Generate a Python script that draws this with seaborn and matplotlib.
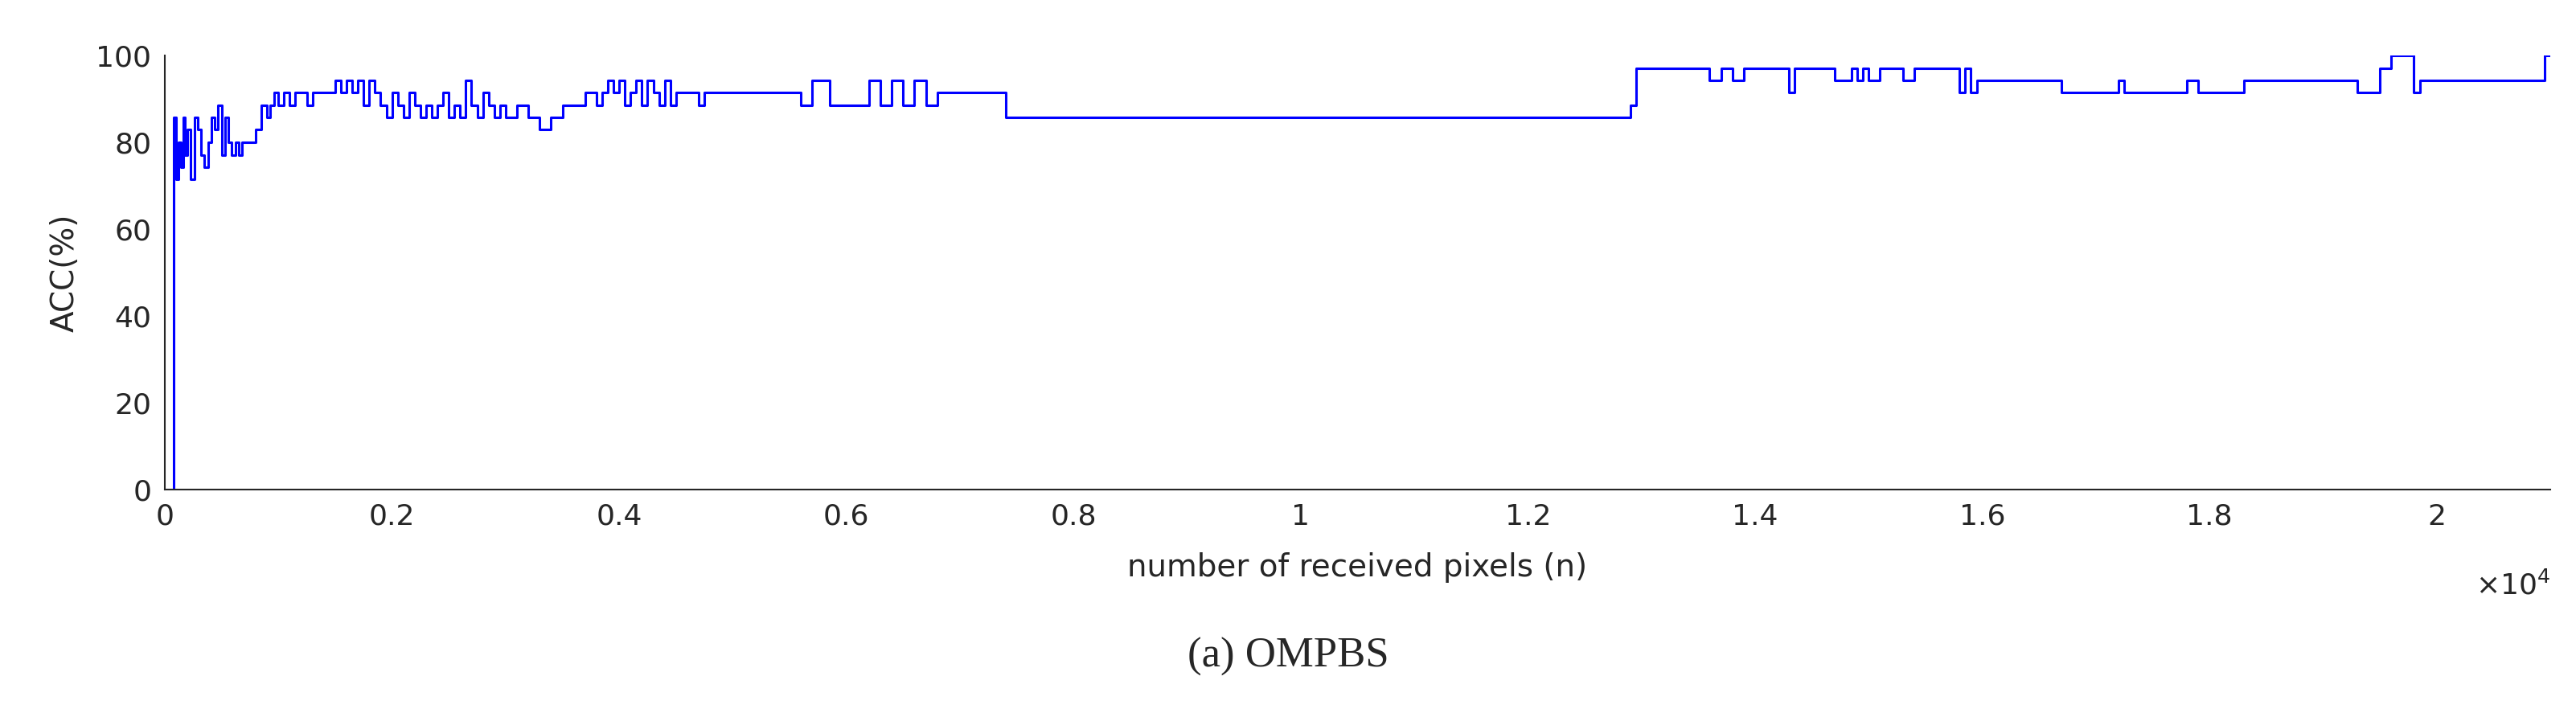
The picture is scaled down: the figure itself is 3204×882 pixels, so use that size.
import matplotlib
matplotlib.use("Agg")
import matplotlib.pyplot as plt
import seaborn as sns
import pandas as pd

sns.set_style("white")
plt.rcParams['font.family'] = ['DejaVu Sans']

# step breakpoints as (n, ACC%) pairs
steps = [
    (0, 0), (80, 85.7), (100, 71.4), (120, 80), (140, 74.3), (160, 85.7), (180, 77.1),
    (200, 82.9), (230, 71.4), (260, 85.7), (290, 82.9), (320, 77.1), (350, 74.3), (380, 80),
    (410, 85.7), (440, 82.9), (470, 88.6), (500, 77.1), (530, 85.7), (560, 80), (590, 77.1),
    (620, 80), (650, 77.1), (680, 80), (800, 82.9), (850, 88.6), (900, 85.7), (930, 88.6),
    (960, 91.4), (1000, 88.6), (1050, 91.4), (1100, 88.6), (1150, 91.4), (1250, 88.6),
    (1300, 91.4), (1500, 94.3), (1550, 91.4), (1600, 94.3), (1650, 91.4), (1700, 94.3),
    (1750, 88.6), (1800, 94.3), (1850, 91.4), (1900, 88.6), (1950, 85.7), (2000, 91.4),
    (2050, 88.6), (2100, 85.7), (2150, 91.4), (2200, 88.6), (2250, 85.7), (2300, 88.6),
    (2350, 85.7), (2400, 88.6), (2450, 91.4), (2500, 85.7), (2550, 88.6), (2600, 85.7),
    (2650, 94.3), (2700, 88.6), (2750, 85.7), (2800, 91.4), (2850, 88.6), (2900, 85.7),
    (2950, 88.6), (3000, 85.7), (3100, 88.6), (3200, 85.7), (3300, 82.9), (3400, 85.7),
    (3500, 88.6), (3700, 91.4), (3800, 88.6), (3850, 91.4), (3900, 94.3), (3950, 91.4),
    (4000, 94.3), (4050, 88.6), (4100, 91.4), (4150, 94.3), (4200, 88.6), (4250, 94.3),
    (4300, 91.4), (4350, 88.6), (4400, 94.3), (4450, 88.6), (4500, 91.4), (4700, 88.6),
    (4750, 91.4), (5600, 88.6), (5700, 94.3), (5850, 88.6), (6200, 94.3), (6300, 88.6),
    (6400, 94.3), (6500, 88.6), (6600, 94.3), (6700, 88.6), (6800, 91.4), (7400, 85.7),
    (12900, 88.6), (12950, 97.1), (13600, 94.3), (13700, 97.1), (13800, 94.3), (13900, 97.1),
    (14300, 91.4), (14350, 97.1), (14700, 94.3), (14850, 97.1), (14900, 94.3), (14950, 97.1),
    (15000, 94.3), (15100, 97.1), (15300, 94.3), (15400, 97.1), (15800, 91.4), (15850, 97.1),
    (15900, 91.4), (15950, 94.3), (16700, 91.4), (17200, 94.3), (17250, 91.4), (17800, 94.3),
    (17900, 91.4), (18300, 94.3), (19300, 91.4), (19500, 97.1), (19600, 100), (19800, 91.4),
    (19850, 94.3), (20950, 100), (21000, 100),
]
n_vals = [p[0] for p in steps]
acc_vals = [p[1] for p in steps]

df = pd.DataFrame({"n": n_vals, "acc": acc_vals})

fig = plt.figure(figsize=(32.04, 8.82), dpi=100)
ax = fig.add_axes([205/3204, 1-609/882, (3172-205)/3204, (609-69)/882])
sns.lineplot(data=df, x="n", y="acc", ax=ax, color="#0000ff", lw=2.2, drawstyle="steps-post")
ax.set_xlim(0, 21000)
ax.set_ylim(0, 100)
ax.set_xticks([0, 2000, 4000, 6000, 8000, 10000, 12000, 14000, 16000, 18000, 20000])
ax.set_xticklabels(["0", "0.2", "0.4", "0.6", "0.8", "1", "1.2", "1.4", "1.6", "1.8", "2"])
ax.set_yticks([0, 20, 40, 60, 80, 100])
for s in ["top", "right"]:
    ax.spines[s].set_visible(False)
for s in ["left", "bottom"]:
    ax.spines[s].set_color("#262626")
    ax.spines[s].set_linewidth(1.5)
ax.tick_params(axis="both", direction="in", length=14, width=1.5, colors="#262626",
               labelsize=26, labelcolor="#262626", pad=12)
ax.set_xlabel("number of received pixels (n)", fontsize=28, color="#262626", labelpad=20)
ax.set_ylabel("ACC(%)", fontsize=28, color="#262626", labelpad=14)
fig.text(3172/3204, 1-740/882, r"$\times10^4$", fontsize=26, color="#262626", ha="right")
fig.text(0.5, 1-830/882, "(a) OMPBS", fontsize=38, family="Liberation Serif", ha="center")
fig.savefig("out.png", dpi=100)
